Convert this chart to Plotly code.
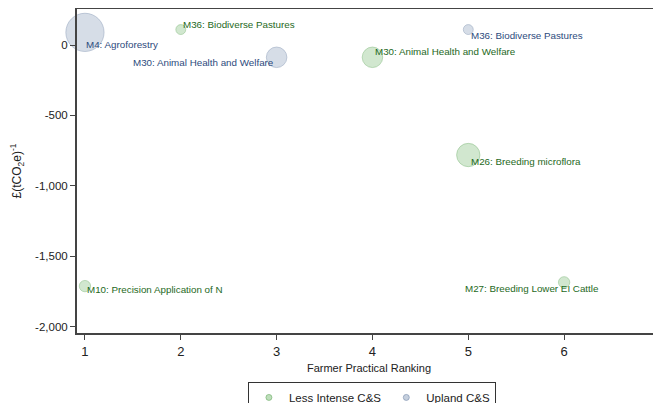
import plotly.graph_objects as go

# ---- data ----
less_names = ["M36: Biodiverse Pastures", "M30: Animal Health and Welfare",
              "M26: Breeding microflora", "M10: Precision Application of N",
              "M27: Breeding Lower EI Cattle"]
less_rank = [2, 4, 5, 1, 6]
less_cost = [110, -87, -781, -1712, -1685]
less_weight = [0.49, 2.1, 2.72, 0.64, 0.64]

upland_names = ["M4: Agroforestry", "M30: Animal Health and Welfare",
                "M36: Biodiverse Pastures"]
upland_rank = [1, 3, 5]
upland_cost = [90, -87, 110]
upland_weight = [7.29, 2.1, 0.49]

y_tickvals = [0, -500, -1000, -1500, -2000]
y_ticktext = ["0", "-500", "-1,000", "-1,500", "-2,000"]
x_tickvals = [1, 2, 3, 4, 5, 6, 7]

# label placement (anchor side, pixel offsets) - styling
less_lab = [("left", 2, 5), ("left", 2.5, 5.5), ("left", 2.5, -6.3),
            ("left", 2.5, -3), ("right", 35, -6.5)]
upland_lab = [("left", 1.5, -11.7), ("right", -3, -5.4), ("left", 2.5, -6.4)]

FONT = "Liberation Sans, Arial, sans-serif"
GREEN_FILL = "rgba(125,190,120,0.5)"
GREEN_LINE = "rgba(95,165,90,0.55)"
GREEN_TXT = "rgb(30,105,35)"
BLUE_FILL = "rgba(160,176,200,0.6)"
BLUE_LINE = "rgba(125,145,175,0.65)"
BLUE_TXT = "rgb(45,75,125)"

fig = go.Figure()

fig.add_trace(go.Scatter(
    x=less_rank, y=less_cost, mode="markers", showlegend=False,
    marker=dict(size=less_weight, sizemode="area", sizeref=0.01,
                color=GREEN_FILL, line=dict(color=GREEN_LINE, width=1)),
    cliponaxis=False, hoverinfo="text", text=less_names))
fig.add_trace(go.Scatter(
    x=upland_rank, y=upland_cost, mode="markers", showlegend=False,
    marker=dict(size=upland_weight, sizemode="area", sizeref=0.01,
                color=BLUE_FILL, line=dict(color=BLUE_LINE, width=1)),
    cliponaxis=False, hoverinfo="text", text=upland_names))

# legend-only traces
fig.add_trace(go.Scatter(x=[None], y=[None], mode="markers", name="Less Intense C&S",
                         marker=dict(size=6, color=GREEN_FILL,
                                     line=dict(color=GREEN_LINE, width=1))))
fig.add_trace(go.Scatter(x=[None], y=[None], mode="markers", name="Upland C&S",
                         marker=dict(size=6, color=BLUE_FILL,
                                     line=dict(color=BLUE_LINE, width=1))))

for names, xs, ys, labs, col in [(less_names, less_rank, less_cost, less_lab, GREEN_TXT),
                                 (upland_names, upland_rank, upland_cost, upland_lab, BLUE_TXT)]:
    for n, x, y, (anc, dx, dy) in zip(names, xs, ys, labs):
        fig.add_annotation(x=x, y=y, text=n, showarrow=False, xanchor=anc,
                           yanchor="middle", xshift=dx, yshift=dy,
                           borderpad=0, borderwidth=0,
                           font=dict(family=FONT, size=9.8, color=col))

# page body has an 8px margin, so the figure is sized/offset to compensate
fig.update_layout(
    width=653, height=395,
    margin=dict(l=69, r=0, t=1, b=70, autoexpand=False),
    paper_bgcolor="white", plot_bgcolor="white",
    font=dict(family=FONT, size=11, color="#222"),
    showlegend=True,
    legend=dict(orientation="h", x=0.505, xanchor="center", y=-0.151, yanchor="top",
                bordercolor="#333", borderwidth=1, bgcolor="white",
                font=dict(family=FONT, size=11.5, color="#222"),
                itemwidth=30, tracegroupgap=0),
    xaxis=dict(range=[0.917, 7.011], tickvals=x_tickvals, showgrid=False, zeroline=False,
               automargin=False, ticklabeloverflow="allow",
               showline=True, linecolor="#444", linewidth=2, mirror=True,
               ticks="outside", ticklen=5, tickcolor="#444", tickwidth=1,
               tickfont=dict(family=FONT, size=13, color="#222"),
               title=dict(text="Farmer Practical Ranking", standoff=7,
                          font=dict(family=FONT, size=11, color="#222"))),
    yaxis=dict(range=[-2045, 256], tickvals=y_tickvals, ticktext=y_ticktext,
               showgrid=False, zeroline=False, automargin=False,
               showline=True, linecolor="#444", linewidth=2, mirror=False,
               ticks="outside", ticklen=5, tickcolor="#444", tickwidth=1,
               tickfont=dict(family=FONT, size=11.5, color="#222"),
               title=dict(text="£(tCO<sub>2</sub>e)<sup>-1</sup>", standoff=12,
                          font=dict(family=FONT, size=12, color="#222"))),
)

fig.write_html("out.html")
